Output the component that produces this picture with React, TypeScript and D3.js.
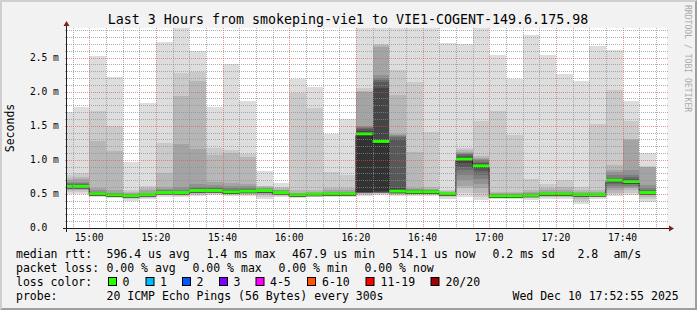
import React from 'react';
import * as d3 from 'd3';

// ---------- data ----------
const BAR_END_TIMES = [
  '14:55', '15:00', '15:05', '15:10', '15:15', '15:20', '15:25', '15:30', '15:35', '15:40',
  '15:45', '15:50', '15:55', '16:00', '16:05', '16:10', '16:15', '16:20', '16:25', '16:30',
  '16:35', '16:40', '16:45', '16:50', '16:55', '17:00', '17:05', '17:10', '17:15', '17:20',
  '17:25', '17:30', '17:35', '17:40', '17:45', '17:50',
];

// 20 sorted ping RTTs per 5-minute step, in milliseconds
const PINGS: number[][] = [
  [0.50, 0.53, 0.55, 0.56, 0.57, 0.58, 0.59, 0.60, 0.60, 0.61, 0.61, 0.62, 0.63, 0.64, 0.66, 0.68, 0.70, 0.73, 0.78, 1.70],
  [0.50, 0.53, 0.55, 0.56, 0.57, 0.58, 0.59, 0.60, 0.60, 0.61, 0.61, 0.62, 0.63, 0.64, 0.66, 0.68, 0.72, 0.75, 0.80, 1.77],
  [0.45, 0.47, 0.48, 0.48, 0.49, 0.49, 0.49, 0.50, 0.50, 0.50, 0.50, 0.51, 0.51, 0.52, 0.53, 0.55, 0.59, 1.28, 1.72, 2.52],
  [0.44, 0.46, 0.47, 0.47, 0.48, 0.48, 0.48, 0.48, 0.48, 0.48, 0.49, 0.49, 0.50, 0.50, 0.51, 0.52, 0.55, 1.13, 1.50, 2.21],
  [0.39, 0.42, 0.44, 0.45, 0.46, 0.46, 0.47, 0.47, 0.47, 0.47, 0.48, 0.48, 0.48, 0.49, 0.49, 0.50, 0.51, 0.53, 0.55, 0.97],
  [0.42, 0.44, 0.46, 0.47, 0.47, 0.48, 0.48, 0.48, 0.49, 0.49, 0.49, 0.49, 0.50, 0.50, 0.51, 0.52, 0.55, 0.58, 0.62, 1.83],
  [0.46, 0.48, 0.49, 0.50, 0.50, 0.51, 0.51, 0.51, 0.52, 0.52, 0.52, 0.52, 0.53, 0.54, 0.55, 0.57, 0.60, 0.81, 1.25, 2.73],
  [0.45, 0.47, 0.48, 0.49, 0.50, 0.50, 0.51, 0.51, 0.52, 0.52, 0.52, 0.52, 0.53, 0.54, 0.56, 0.60, 1.23, 1.93, 2.28, 2.95],
  [0.47, 0.49, 0.50, 0.51, 0.52, 0.53, 0.54, 0.54, 0.55, 0.55, 0.55, 0.56, 0.57, 0.58, 0.60, 0.64, 1.16, 2.16, 2.29, 2.60],
  [0.48, 0.50, 0.51, 0.52, 0.53, 0.54, 0.54, 0.55, 0.55, 0.55, 0.55, 0.56, 0.57, 0.58, 0.60, 0.63, 0.68, 1.07, 1.17, 1.77],
  [0.47, 0.49, 0.50, 0.51, 0.51, 0.52, 0.52, 0.52, 0.53, 0.53, 0.53, 0.54, 0.55, 0.56, 0.58, 0.62, 0.66, 1.10, 1.15, 2.40],
  [0.47, 0.49, 0.50, 0.51, 0.52, 0.53, 0.53, 0.54, 0.54, 0.54, 0.54, 0.55, 0.56, 0.57, 0.59, 0.62, 0.65, 1.04, 1.08, 1.86],
  [0.43, 0.46, 0.48, 0.50, 0.51, 0.52, 0.53, 0.54, 0.55, 0.55, 0.55, 0.56, 0.56, 0.57, 0.57, 0.58, 0.59, 0.61, 0.62, 0.84],
  [0.45, 0.47, 0.48, 0.49, 0.50, 0.50, 0.51, 0.51, 0.52, 0.52, 0.52, 0.52, 0.53, 0.53, 0.54, 0.55, 0.56, 0.58, 0.60, 0.66],
  [0.44, 0.46, 0.47, 0.47, 0.48, 0.48, 0.48, 0.48, 0.48, 0.48, 0.49, 0.49, 0.49, 0.50, 0.50, 0.51, 0.52, 0.55, 1.98, 2.19],
  [0.45, 0.47, 0.48, 0.48, 0.49, 0.49, 0.49, 0.49, 0.49, 0.49, 0.50, 0.50, 0.50, 0.51, 0.51, 0.52, 0.53, 0.55, 1.76, 2.07],
  [0.45, 0.47, 0.48, 0.48, 0.49, 0.49, 0.49, 0.50, 0.50, 0.50, 0.50, 0.50, 0.51, 0.51, 0.52, 0.53, 0.55, 0.59, 0.82, 1.38],
  [0.45, 0.47, 0.48, 0.48, 0.49, 0.49, 0.49, 0.50, 0.50, 0.50, 0.50, 0.50, 0.51, 0.51, 0.52, 0.53, 0.55, 0.59, 0.78, 1.60],
  [0.47, 0.49, 0.50, 0.51, 0.51, 0.52, 0.52, 0.52, 0.53, 0.53, 1.39, 1.42, 1.45, 1.47, 1.48, 1.49, 1.99, 2.01, 2.05, 2.95],
  [0.48, 0.50, 0.51, 0.51, 0.52, 0.52, 0.52, 0.53, 0.53, 0.54, 1.27, 2.05, 2.14, 2.17, 2.20, 2.25, 2.66, 2.68, 2.70, 2.95],
  [0.47, 0.49, 0.50, 0.50, 0.51, 0.51, 0.52, 0.52, 0.52, 0.53, 0.54, 0.58, 1.30, 1.33, 1.35, 1.37, 1.38, 1.95, 2.31, 2.95],
  [0.47, 0.49, 0.50, 0.50, 0.51, 0.51, 0.52, 0.52, 0.52, 0.53, 0.53, 0.54, 0.54, 0.55, 0.56, 0.57, 0.58, 1.11, 2.14, 2.95],
  [0.47, 0.49, 0.50, 0.50, 0.51, 0.51, 0.52, 0.52, 0.52, 0.53, 0.53, 0.54, 0.54, 0.55, 0.55, 0.56, 0.57, 0.60, 1.41, 2.95],
  [0.43, 0.46, 0.47, 0.48, 0.48, 0.49, 0.49, 0.49, 0.50, 0.50, 0.50, 0.50, 0.51, 0.51, 0.52, 0.52, 0.53, 0.54, 0.56, 2.72],
  [0.45, 0.52, 0.58, 0.62, 0.70, 0.78, 0.85, 0.90, 0.95, 0.98, 1.01, 1.04, 1.06, 1.08, 1.09, 1.10, 1.12, 1.14, 1.17, 2.70],
  [0.41, 0.46, 0.52, 0.58, 0.65, 0.72, 0.78, 0.84, 0.88, 0.90, 0.91, 0.93, 0.95, 0.97, 0.99, 1.01, 1.03, 1.05, 1.565, 2.95],
  [0.42, 0.44, 0.45, 0.46, 0.46, 0.46, 0.47, 0.47, 0.47, 0.47, 0.47, 0.48, 0.48, 0.48, 0.49, 0.50, 0.51, 0.53, 1.72, 2.54],
  [0.42, 0.44, 0.45, 0.46, 0.46, 0.46, 0.47, 0.47, 0.47, 0.47, 0.47, 0.48, 0.48, 0.48, 0.49, 0.50, 0.51, 0.53, 1.37, 2.19],
  [0.41, 0.44, 0.45, 0.46, 0.46, 0.47, 0.47, 0.47, 0.48, 0.48, 0.48, 0.48, 0.49, 0.49, 0.50, 0.51, 0.53, 0.56, 0.72, 2.835],
  [0.42, 0.45, 0.46, 0.47, 0.48, 0.48, 0.49, 0.49, 0.49, 0.50, 0.50, 0.50, 0.51, 0.51, 0.52, 0.53, 0.55, 0.58, 0.65, 2.54],
  [0.43, 0.45, 0.46, 0.47, 0.48, 0.48, 0.49, 0.49, 0.49, 0.50, 0.50, 0.50, 0.51, 0.51, 0.52, 0.53, 0.55, 0.60, 0.70, 2.26],
  [0.35, 0.40, 0.43, 0.45, 0.46, 0.47, 0.48, 0.48, 0.48, 0.49, 0.49, 0.49, 0.50, 0.50, 0.51, 0.52, 0.53, 0.56, 0.60, 2.155],
  [0.42, 0.45, 0.46, 0.47, 0.47, 0.48, 0.48, 0.48, 0.49, 0.49, 0.49, 0.49, 0.50, 0.50, 0.51, 0.52, 0.53, 0.55, 1.53, 2.67],
  [0.47, 0.50, 0.52, 0.55, 0.58, 0.62, 0.65, 0.67, 0.69, 0.70, 0.70, 0.71, 0.72, 0.74, 0.78, 0.82, 0.85, 0.92, 2.02, 2.605],
  [0.48, 0.52, 0.55, 0.58, 0.60, 0.62, 0.64, 0.66, 0.67, 0.68, 0.68, 0.70, 0.72, 0.75, 0.78, 0.85, 1.29, 1.30, 1.57, 1.862],
  [0.38, 0.43, 0.46, 0.48, 0.49, 0.50, 0.51, 0.51, 0.52, 0.52, 0.52, 0.53, 0.54, 0.56, 0.59, 0.63, 0.89, 0.90, 0.91, 1.10],
];

const MEDIANS = [
  0.61, 0.61, 0.50, 0.485, 0.475, 0.49, 0.52, 0.52, 0.55, 0.55,
  0.53, 0.54, 0.55, 0.52, 0.485, 0.495, 0.50, 0.50, 1.38, 1.27,
  0.54, 0.53, 0.53, 0.50, 1.01, 0.91, 0.47, 0.47, 0.48, 0.50,
  0.50, 0.49, 0.49, 0.70, 0.68, 0.52,
];

const Y_TICKS = [0, 0.5, 1.0, 1.5, 2.0, 2.5];
const Y_TICK_LABELS = ['0.0', '0.5 m', '1.0 m', '1.5 m', '2.0 m', '2.5 m'];
const X_TICK_LABELS = ['15:00', '15:20', '15:40', '16:00', '16:20', '16:40', '17:00', '17:20', '17:40'];

const TITLE = 'Last 3 Hours from smokeping-vie1 to VIE1-COGENT-149.6.175.98';
const Y_TITLE = 'Seconds';
const WATERMARK = 'RRDTOOL / TOBI OETIKER';

const RTT_ROW = ['median rtt:', '596.4 us avg', '1.4 ms max', '467.9 us min', '514.1 us now', '0.2 ms sd', '2.8', 'am/s'];
const LOSS_ROW = ['packet loss:', '0.00 % avg', '0.00 % max', '0.00 % min', '0.00 % now'];
const LOSS_LABELS = ['0', '1', '2', '3', '4-5', '6-10', '11-19', '20/20'];
const LOSS_COLORS = ['#26ff00', '#00b8ff', '#0059ff', '#7e00ff', '#ff00ff', '#ff5500', '#ff0000', '#a10000'];
const PROBE_ROW = ['probe:', '20 ICMP Echo Pings (56 Bytes) every 300s'];
const TIMESTAMP = 'Wed Dec 10 17:52:55 2025';

// ---------- layout ----------
const W = 697;
const H = 310;
const X0 = 67;
const X1 = 667;
const Y0 = 228;
const Y1 = 28;
const MONO = "'DejaVu Sans Mono', monospace";

const at = (s: string, sec = 0) => {
  const [h, m] = s.split(':').map(Number);
  return new Date(2025, 11, 10, h, m, sec);
};

export default function App() {
  const x = d3.scaleTime().domain([at('14:53', 20), at('17:53', 20)]).range([X0, X1]);
  const y = d3.scaleLinear().domain([0, 2.933]).range([Y0, Y1]);
  const fmt = d3.timeFormat('%H:%M');

  const bars = BAR_END_TIMES.map((t, i) => {
    const end = at(t);
    const start = d3.timeMinute.offset(end, -5);
    return { x0: Math.max(x(start), X0), x1: x(end), pings: PINGS[i], med: MEDIANS[i] };
  });

  const smoke: JSX.Element[] = [];
  bars.forEach((b, i) => {
    for (let k = 1; k <= 10; k++) {
      const lo = b.pings[k - 1];
      const hi = b.pings[20 - k];
      const c = Math.floor((190 / 10) * (10 - k)) + 50;
      const col = d3.rgb(c, c, c).formatHex();
      smoke.push(
        <rect key={`s${i}-${k}`} x={b.x0} width={b.x1 - b.x0} y={y(hi)} height={Math.max(0, y(lo) - y(hi))} fill={col} shapeRendering="crispEdges" />
      );
    }
  });

  const medPts: [number, number][] = [];
  bars.forEach((b) => {
    medPts.push([b.x0, y(b.med) + 1.5]);
    medPts.push([b.x1, y(b.med) + 1.5]);
  });
  const medLine = d3.line()(medPts) || '';

  // grid
  const minorY = d3.range(1, 30).map((v) => v / 10).filter((v) => Math.round(v * 10) % 5 !== 0 && y(v) >= Y1);
  const majorY = Y_TICKS.filter((v) => v > 0);
  const minorX = d3.timeMinute.every(5)!.range(at('14:55'), at('17:53', 20)).filter((d) => d.getMinutes() % 20 !== 0);
  const majorX = X_TICK_LABELS.map((s) => at(s));

  const gridCol = 'rgba(143,143,143,0.7)';
  const mgridCol = 'rgba(222,79,79,0.6)';

  const legendX = [16, 106.5, 206.5, 292, 392.5, 492.5, 577.5, 613.5];
  const lossX = [16, 106.5, 192.5, 278.5, 364.5];
  const boxX = [108, 145.5, 182, 219, 255.5, 307, 365.5, 430.5];
  const labelX = [122.5, 160, 196.5, 233.5, 270, 322, 380.5, 445.5];

  return (
    <svg width={W} height={H} style={{ position: 'absolute', left: 0, top: 0, display: 'block' }} fontFamily={MONO}>
      <defs>
        <clipPath id="plot">
          <rect x={X0} y={Y1} width={X1 - X0} height={Y0 - Y1} />
        </clipPath>
      </defs>
      <rect width={W} height={H} fill="#f2f2f2" />
      <polygon points={`0,${H} 0,0 ${W},0 ${W - 2},2 2,2 2,${H - 2}`} fill="#cfcfcf" />
      <polygon points={`2,${H - 2} ${W - 2},${H - 2} ${W - 2},2 ${W},0 ${W},${H} 0,${H}`} fill="#9e9e9e" />
      <rect x={X0} y={Y1} width={X1 - X0} height={Y0 - Y1} fill="#ffffff" />

      <g clipPath="url(#plot)">
        {smoke}
        <path d={medLine} fill="none" stroke="#202020" strokeWidth={1} />
        {bars.map((b, i) => (
          <rect key={`m${i}`} x={b.x0} width={b.x1 - b.x0} y={y(b.med) - 1.5} height={3} fill={LOSS_COLORS[0]} />
        ))}
      </g>

      {/* grid */}
      <g strokeDasharray="1,1" strokeWidth={1}>
        {minorY.map((v) => (
          <line key={`gy${v}`} x1={X0 - 2} x2={X1 + 2} y1={Math.round(y(v)) + 0.5} y2={Math.round(y(v)) + 0.5} stroke={gridCol} />
        ))}
        {minorX.map((d) => (
          <line key={`gx${+d}`} x1={Math.round(x(d)) + 0.5} x2={Math.round(x(d)) + 0.5} y1={Y1} y2={Y0 + 2} stroke={gridCol} />
        ))}
        {majorY.map((v) => (
          <line key={`my${v}`} x1={X0 - 2} x2={X1 + 2} y1={Math.round(y(v)) + 0.5} y2={Math.round(y(v)) + 0.5} stroke={mgridCol} />
        ))}
        {majorX.map((d) => (
          <line key={`mx${+d}`} x1={Math.round(x(d)) + 0.5} x2={Math.round(x(d)) + 0.5} y1={Y1} y2={Y0 + 2} stroke={mgridCol} />
        ))}
      </g>

      {/* axes */}
      <line x1={X0 - 4} x2={X1 + 4} y1={Y0 + 0.5} y2={Y0 + 0.5} stroke="#1f1f1f" />
      <line x1={X0 - 0.5} x2={X0 - 0.5} y1={Y0 + 4} y2={Y1 - 4} stroke="#1f1f1f" />
      <polygon points={`${X1 + 2},${Y0 - 2.5} ${X1 + 2},${Y0 + 3.5} ${X1 + 7},${Y0 + 0.5}`} fill="#801f1f" />
      <polygon points={`${X0 - 3.5},${Y1 - 2} ${X0 + 2.5},${Y1 - 2} ${X0 - 0.5},${Y1 - 7}`} fill="#801f1f" />

      {/* axis labels */}
      {Y_TICKS.map((v, i) => (
        <text key={`yl${v}`} x={30} y={y(v) + 3.3} fontSize={9.6} fill="#000">{Y_TICK_LABELS[i]}</text>
      ))}
      {majorX.map((d) => (
        <text key={`xl${+d}`} x={x(d)} y={241} fontSize={9.6} textAnchor="middle" fill="#000">{fmt(d)}</text>
      ))}

      <text x={348} y={24} fontSize={13.3} textAnchor="middle" fill="#000">{TITLE}</text>
      <text transform={`translate(14,128) rotate(-90)`} fontSize={11.5} textAnchor="middle" fill="#000">{Y_TITLE}</text>
      <text transform={`translate(684.5,5) rotate(90)`} fontSize={8.1} fill="#aaaaaa">{WATERMARK}</text>

      {/* legend */}
      <g fontSize={11.5} fill="#000">
        {RTT_ROW.map((s, i) => (
          <text key={`r${i}`} x={legendX[i]} y={258}>{s}</text>
        ))}
        {LOSS_ROW.map((s, i) => (
          <text key={`l${i}`} x={lossX[i]} y={272}>{s}</text>
        ))}
        <text x={16} y={286}>loss color:</text>
        {LOSS_LABELS.map((s, i) => (
          <g key={`lc${i}`}>
            <rect x={boxX[i] + 0.5} y={277.5} width={8} height={8} fill={LOSS_COLORS[i]} stroke="#000" strokeWidth={1} />
            <text x={labelX[i]} y={286}>{s}</text>
          </g>
        ))}
        <text x={16} y={300}>{PROBE_ROW[0]}</text>
        <text x={106.5} y={300}>{PROBE_ROW[1]}</text>
        <text x={512.5} y={300}>{TIMESTAMP}</text>
      </g>
    </svg>
  );
}
